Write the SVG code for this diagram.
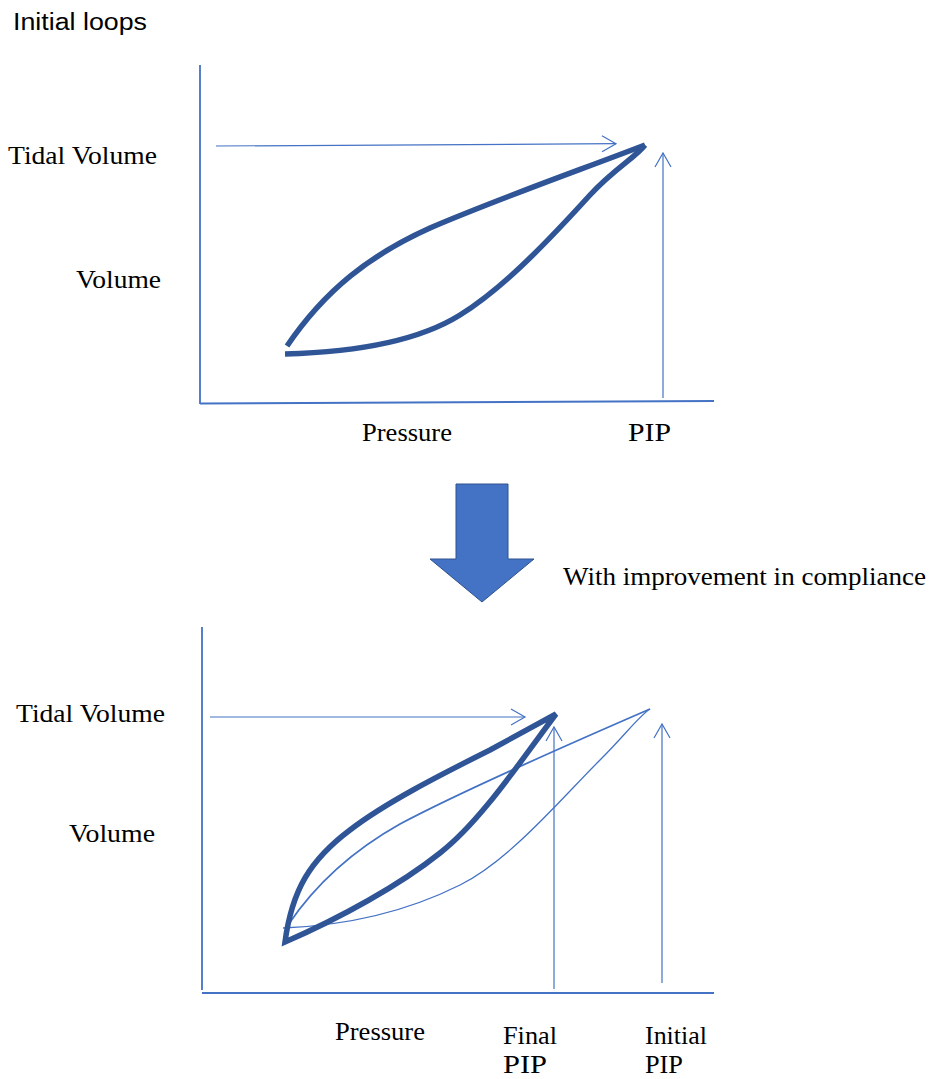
<svg xmlns="http://www.w3.org/2000/svg" width="930" height="1079" viewBox="0 0 930 1079">
<style>
.serif{font-family:"Liberation Serif","Times New Roman",serif;font-size:25px;fill:#000}
.sans{font-family:"Liberation Sans",Arial,sans-serif;font-size:23.5px;fill:#000}
.axis{stroke:#4472C4;stroke-width:1.8;fill:none}
.guide{stroke:#4472C4;stroke-width:1.2;fill:none}
.thick{stroke:#2F5597;stroke-width:5.5;fill:none;stroke-linejoin:miter}
.thin{stroke:#4472C4;stroke-width:1.8;fill:none}
.thin2{stroke:#4472C4;stroke-width:1.3;fill:none}
</style>
<defs>
<marker id="chev" markerUnits="userSpaceOnUse" markerWidth="20" markerHeight="20" viewBox="-16 -10 18 20" refX="0" refY="0" orient="auto">
<path d="M-14,-8 L0,0 L-14,8" fill="none" stroke="#4472C4" stroke-width="1.2"/>
</marker>
</defs>
<rect width="930" height="1079" fill="#fff"/>
<g id="title"><text class="sans" x="13" y="30" textLength="134" lengthAdjust="spacingAndGlyphs">Initial loops</text></g>

<g id="top-chart">
<line class="axis" x1="200" y1="65" x2="200" y2="404"/>
<line class="axis" x1="200" y1="403.5" x2="714" y2="401"/>
<path class="thick" d="M287,346 C325,290 370,255 430,228 C500,198 580,170 645,145"/>
<path class="thick" d="M285,354 C360,352 420,340 460,315 C500,290 540,250 590,195 C615,168 635,158 645,145"/>
</g>
<g id="top-connectors">
<line class="guide" x1="216" y1="146" x2="616" y2="143.7" marker-end="url(#chev)"/>
<line class="guide" x1="663" y1="398" x2="663" y2="153" marker-end="url(#chev)"/>
</g>
<g id="top-labels">
<text class="serif" x="8" y="164" textLength="149" lengthAdjust="spacingAndGlyphs">Tidal Volume</text>
<text class="serif" x="76" y="288" textLength="85" lengthAdjust="spacingAndGlyphs">Volume</text>
<text class="serif" x="362" y="441" textLength="90" lengthAdjust="spacingAndGlyphs">Pressure</text>
<text class="serif" x="628" y="441" textLength="43" lengthAdjust="spacingAndGlyphs">PIP</text>
</g>

<g id="down-arrow">
<polygon points="456,484 508,484 508,559 534,559 482,602 430,559 456,559" fill="#4472C4" stroke="#2F528F" stroke-width="1"/>
<text class="serif" x="563" y="585" textLength="363" lengthAdjust="spacingAndGlyphs">With improvement in compliance</text>
</g>

<g id="bottom-chart">
<line class="axis" x1="202" y1="627" x2="202" y2="990"/>
<line class="axis" x1="202" y1="993" x2="714" y2="993"/>
<path class="thin" d="M288,925 C315,885 350,852 400,824 C460,792 560,748 650,709"/>
<path class="thin2" d="M283,928 C360,925 420,905 460,885 C510,860 560,800 600,760 C625,735 640,715 650,709"/>
<path class="thick" d="M556,714 L490,750 C440,775 385,803 350,830 C310,860 292,890 285,942 C340,918 400,885 440,853 C480,822 520,762 556,714 Z"/>
</g>
<g id="bottom-connectors">
<line class="guide" x1="210" y1="717" x2="525" y2="717" marker-end="url(#chev)"/>
<line class="guide" x1="554" y1="989" x2="554" y2="727" marker-end="url(#chev)"/>
<line class="guide" x1="662" y1="983" x2="662" y2="724" marker-end="url(#chev)"/>
</g>
<g id="bottom-labels">
<text class="serif" x="16" y="722" textLength="149" lengthAdjust="spacingAndGlyphs">Tidal Volume</text>
<text class="serif" x="69" y="842" textLength="86" lengthAdjust="spacingAndGlyphs">Volume</text>
<text class="serif" x="335" y="1040" textLength="90" lengthAdjust="spacingAndGlyphs">Pressure</text>
<text class="serif" x="503" y="1044" textLength="54" lengthAdjust="spacingAndGlyphs">Final</text>
<text class="serif" x="503" y="1073" textLength="44" lengthAdjust="spacingAndGlyphs">PIP</text>
<text class="serif" x="645" y="1044" textLength="62" lengthAdjust="spacingAndGlyphs">Initial</text>
<text class="serif" x="645" y="1073" textLength="38" lengthAdjust="spacingAndGlyphs">PIP</text>
</g>
</svg>
